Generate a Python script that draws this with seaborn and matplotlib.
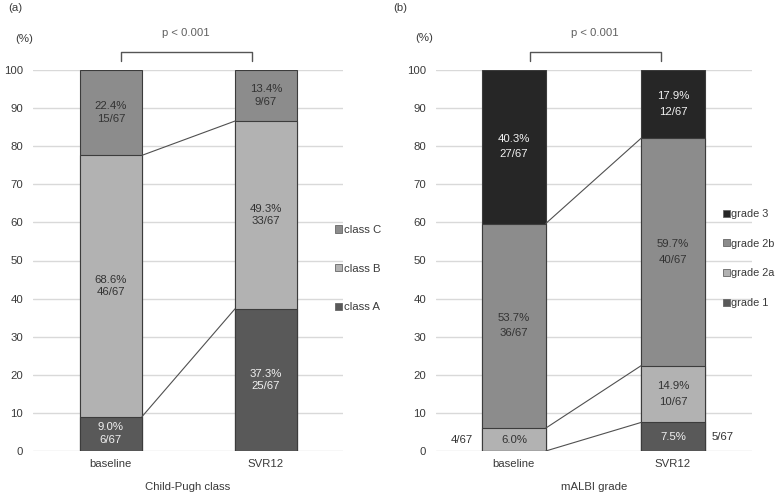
import numpy as np
import pandas as pd
import seaborn as sns
import matplotlib.pyplot as plt
from matplotlib.patches import Patch

# data
times = ["baseline", "SVR12"]

cp_classes = ["class A", "class B", "class C"]
cp_pct = {"class A": [9.0, 37.3], "class B": [68.6, 49.3], "class C": [22.4, 13.4]}
cp_n = {"class A": [6, 25], "class B": [46, 33], "class C": [15, 9]}

albi_grades = ["grade 1", "grade 2a", "grade 2b", "grade 3"]
albi_pct = {"grade 1": [0.0, 7.5], "grade 2a": [6.0, 14.9], "grade 2b": [53.7, 59.7], "grade 3": [40.3, 17.9]}
albi_n = {"grade 1": [0, 5], "grade 2a": [4, 10], "grade 2b": [36, 40], "grade 3": [27, 12]}
total_n = 67

cp_colors = {"class A": "#595959", "class B": "#b2b2b2", "class C": "#8c8c8c"}
albi_colors = {"grade 1": "#595959", "grade 2a": "#b2b2b2", "grade 2b": "#8c8c8c", "grade 3": "#262626"}
dark = {"#595959", "#262626"}

sns.set_theme(style="white")
plt.rcParams['font.family'] = ['Liberation Sans', 'DejaVu Sans']
txt = "#3a3a3a"
fs = 8.2


def stacked(ax, groups, pct, counts, colors, xlim, lab_spacing, xlabel):
    df = pd.DataFrame(pct, index=times)
    cum = df.cumsum(axis=1)
    # draw cumulative bars from the top layer down
    for g in groups[::-1]:
        d = pd.DataFrame({"time": times, "val": cum[g].values})
        sns.barplot(data=d, x="time", y="val", color=colors[g], saturation=1,
                    width=0.4, errorbar=None, edgecolor="#3c3c3c", linewidth=0.8, ax=ax)

    # connector lines between segment tops
    for g in groups[:-1]:
        ax.plot([0.2, 0.8], cum[g].values, color="#505050", lw=0.8, zorder=3)

    # segment labels
    for i, t in enumerate(times):
        for g in groups:
            h = df.loc[t, g]
            if h <= 0:
                continue
            mid = cum.loc[t, g] - h / 2
            c = "#f2f2f2" if colors[g] in dark else "#333333"
            n = counts[g][i]
            if h >= 8:
                ax.text(i, mid, f"{h:.1f}%\n{n}/{total_n}", ha="center", va="center",
                        fontsize=fs, color=c, linespacing=lab_spacing, zorder=4)
            else:
                ax.text(i, mid, f"{h:.1f}%", ha="center", va="center", fontsize=fs, color=c, zorder=4)
                side = -0.26 if i == 0 else 0.245
                ax.text(i + side, mid, f"{n}/{total_n}", ha="right" if i == 0 else "left",
                        va="center", fontsize=fs, color="#333333")

    ax.set_xlim(*xlim)
    ax.set_ylim(0, 100)
    ax.set_yticks(np.arange(0, 101, 10))
    ax.grid(axis="y", color="#d9d9d9", lw=1)
    ax.set_axisbelow(True)
    for s in ax.spines.values():
        s.set_visible(False)
    ax.tick_params(axis="y", length=0, pad=7, labelsize=fs, labelcolor=txt)
    ax.tick_params(axis="x", length=0, pad=5.5, labelsize=fs, labelcolor=txt)
    ax.set_ylabel("")
    ax.set_xlabel(xlabel, fontsize=fs, color=txt, labelpad=9.5)


fig = plt.figure(figsize=(7.79, 5), dpi=100)
ax1 = fig.add_axes([33 / 779, 49 / 500, 310 / 779, 381 / 500])
ax2 = fig.add_axes([436 / 779, 49 / 500, 316 / 779, 381 / 500])

stacked(ax1, cp_classes, cp_pct, cp_n, cp_colors, (-0.503, 1.497), 1.35, "Child-Pugh class")
stacked(ax2, albi_grades, albi_pct, albi_n, albi_colors, (-0.49, 1.497), 1.65, "mALBI grade")

# significance brackets
for ax, x0, x1, xt in [(ax1, 0.065, 0.91, 0.48), (ax2, 0.10, 0.925, 0.51)]:
    ax.plot([x0, x0, x1, x1], [102.4, 104.7, 104.7, 102.4], color="#555555", lw=1, clip_on=False)
    ax.text(xt, 109.8, "p < 0.001", ha="center", va="center", fontsize=fs, color="#606060")

# legends
h1 = [Patch(facecolor=cp_colors[g], edgecolor="#666666", lw=0.6) for g in cp_classes[::-1]]
fig.legend(h1, cp_classes[::-1], loc="upper left", bbox_to_anchor=(335 / 779, 1 - 225 / 500),
           frameon=False, fontsize=fs, labelcolor=txt, handlelength=0.6, handleheight=0.6,
           handletextpad=0.2, labelspacing=2.52, borderpad=0, borderaxespad=0)
h2 = [Patch(facecolor=albi_colors[g], edgecolor="#666666", lw=0.6) for g in albi_grades[::-1]]
fig.legend(h2, albi_grades[::-1], loc="upper left", bbox_to_anchor=(723 / 779, 1 - 209 / 500),
           frameon=False, fontsize=7.9, labelcolor=txt, handlelength=0.6, handleheight=0.6,
           handletextpad=0.15, labelspacing=1.8, borderpad=0, borderaxespad=0)

fig.text(8 / 779, 1 - 8 / 500, "(a)", fontsize=fs, color=txt, va="center")
fig.text(393 / 779, 1 - 8 / 500, "(b)", fontsize=fs, color=txt, va="center")
fig.text(24 / 779, 1 - 39 / 500, "(%)", fontsize=fs, color=txt, ha="center", va="center")
fig.text(424 / 779, 1 - 38 / 500, "(%)", fontsize=fs, color=txt, ha="center", va="center")

plt.savefig("out.png", dpi=100)
